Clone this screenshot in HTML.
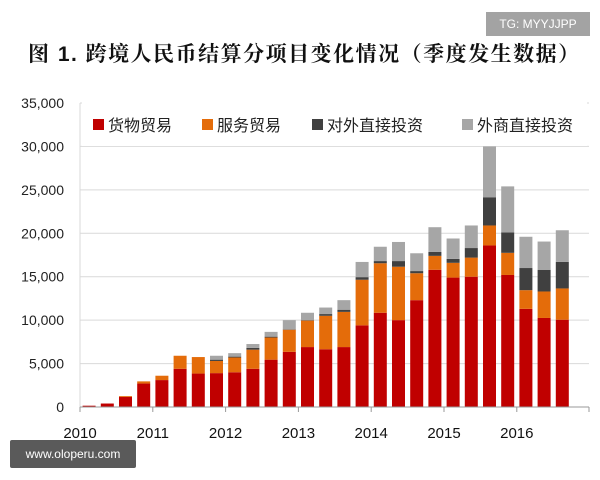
<!DOCTYPE html>
<html><head><meta charset="utf-8"><style>
body{margin:0;background:#fff;}
#wrap{position:relative;width:600px;height:480px;overflow:hidden;background:#fff;font-family:"Liberation Sans","Noto Sans CJK SC",sans-serif;}
#title{position:absolute;left:28px;top:38px;font-size:21px;font-weight:bold;color:#111;white-space:nowrap;font-family:"Liberation Sans","Noto Serif CJK SC","Noto Sans CJK SC",sans-serif;letter-spacing:1.5px;}
#badge{position:absolute;left:486px;top:12px;width:104px;height:24px;background:#a3a3a3;color:#fff;font-size:12px;line-height:24px;text-align:center;}
#wm{position:absolute;left:10px;top:440px;width:126px;height:28px;background:#5a5a5a;color:#fff;font-size:12px;line-height:28px;text-align:center;border-radius:2px;}
</style></head><body>
<div id="wrap">
<div id="title">图 1.  跨境人民币结算分项目变化情况（季度发生数据）</div>
<div id="badge">TG: MYYJJPP</div>
<svg id="chart" width="600" height="480" style="position:absolute;left:0;top:0"></svg>
<div id="wm">www.oloperu.com</div>
</div>
<script>
const goods = [0.15,0.4,1.15,2.7,3.1,4.4,3.85,3.9,4.0,4.4,5.45,6.35,6.9,6.65,6.9,9.4,10.85,10.0,12.3,15.8,14.9,15.0,18.6,15.2,11.3,10.25,10.05];
const services = [0,0,0.1,0.25,0.5,1.5,1.9,1.4,1.7,2.2,2.55,2.55,3.05,3.85,4.05,5.25,5.7,6.15,3.1,1.6,1.7,2.2,2.3,2.55,2.15,3.05,3.6];
const odi = [0,0,0,0,0,0,0,0.15,0.1,0.2,0.1,0.05,0.05,0.2,0.25,0.3,0.25,0.65,0.25,0.45,0.45,1.1,3.25,2.35,2.55,2.5,3.05];
const fdi = [0,0,0,0,0,0,0,0.45,0.4,0.45,0.55,1.05,0.85,0.75,1.1,1.75,1.65,2.2,2.05,2.85,2.35,2.6,5.85,5.3,3.6,3.25,3.65];
const yTicks = [0,5000,10000,15000,20000,25000,30000,35000];
const yTickLabels = ["0","5,000","10,000","15,000","20,000","25,000","30,000","35,000"];
const years = ["2010","2011","2012","2013","2014","2015","2016"];
const seriesNames = ["货物贸易","服务贸易","对外直接投资","外商直接投资"];
const colors = ["#c00000","#e46c0a","#404040","#a6a6a6"];

const NS="http://www.w3.org/2000/svg";
const svg=document.getElementById('chart');
const x0=80,x1=589,y0=407,yTop=103,maxV=35000;
const slot=18.2;
function yS(v){return y0-(v/maxV)*(y0-yTop);}
function xS(i){return x0+slot*(i+0.5);}
function mk(t,a){const e=document.createElementNS(NS,t);for(const k in a)e.setAttribute(k,a[k]);svg.appendChild(e);return e;}
yTicks.forEach((v,i)=>{
  if(v>0){const g=mk('line',{x1:x0,x2:x1,y1:yS(v),y2:yS(v),stroke:'#d9d9d9','stroke-width':1});
  
  }
  const t=mk('text',{x:64,y:yS(v)+5,'text-anchor':'end','font-size':14,fill:'#222','font-family':'Liberation Sans, sans-serif'});
  t.textContent=yTickLabels[i];
  
  
});
mk('line',{x1:x0,x2:x0,y1:yTop,y2:y0,stroke:'#d9d9d9'});
const series=[goods,services,odi,fdi];
goods.forEach((_,i)=>{
  let base=0;
  series.forEach((s,k)=>{
    const v=s[i]*1000;
    if(v<=0)return;
    const r=mk('rect',{x:xS(i)-6.5,width:13,y:yS(base+v),height:yS(base)-yS(base+v),fill:colors[k]});
    
    
    base+=v;
  });
});
const ax=mk('line',{x1:x0,x2:x1,y1:y0,y2:y0,stroke:'#999'});


years.forEach((y,i)=>{
  const x=x0+slot*4*i;
  mk('line',{x1:x,x2:x,y1:y0,y2:y0+5,stroke:'#999'});
  const t=mk('text',{x:x,y:438,'text-anchor':'middle','font-size':15,fill:'#111','font-family':'Liberation Sans, sans-serif'});
  t.textContent=y;
  
  
});
mk('line',{x1:x1,x2:x1,y1:y0,y2:y0+5,stroke:'#999'});
const lg=mk('rect',{x:x0+2,y:yTop-1,width:x1-x0-4,height:44,fill:'#fff'});


const lx=[93,202,312,462];
seriesNames.forEach((n,k)=>{
  mk('rect',{x:lx[k],y:119,width:11,height:11,fill:colors[k]});
  const t=mk('text',{x:lx[k]+15,y:131,'font-size':16,fill:'#222','font-family':'Noto Sans CJK SC, sans-serif'});
  t.textContent=n;
  
  
});
</script>
</body></html>
